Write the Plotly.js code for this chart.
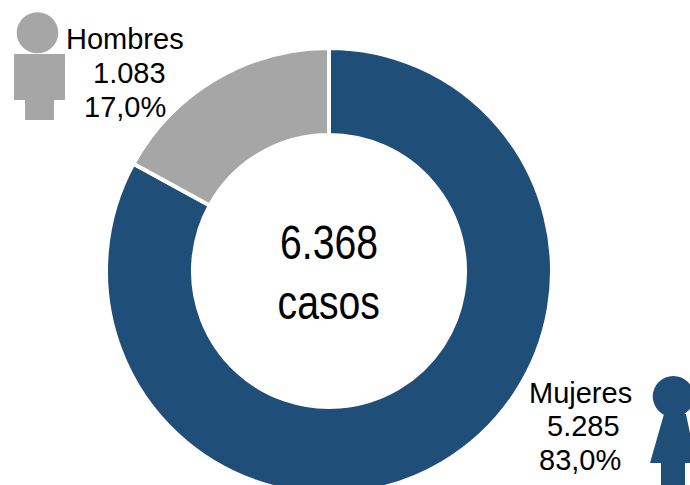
<!DOCTYPE html>
<html><head><meta charset="utf-8">
<script src="https://cdn.plot.ly/plotly-3.0.1.min.js"></script>
<style>html,body{margin:0;padding:0;background:#fff;overflow:hidden;width:690px;height:485px}</style>
</head><body><div id="chart" style="width:690px;height:494px"></div>
<script>
const categories = ["Mujeres", "Hombres"];
const values = [5285, 1083];
const valueLabels = ["5.285", "1.083"];
const shareLabels = ["83,0%", "17,0%"];
const centerLines = ["6.368", "casos"];
const colors = ["#1F4E79", "#A6A6A6"];

const W = 690, H = 494;
const px = x => x / W, py = y => 1 - y / H;
const path = pts => "M" + pts.map(p => px(p[0]) + "," + py(p[1])).join("L") + "Z";
const lab = (t, x, y, size) => ({
  text: t, xref: "paper", yref: "paper", x: px(x), y: py(y), xanchor: "center", yanchor: "middle",
  showarrow: false, font: {family: "Liberation Sans, Arial, sans-serif", size: size, color: "#000"}
});
const fill = c => ({xref: "paper", yref: "paper", fillcolor: c, line: {width: 0}, layer: "above"});

const data = [{
  type: "pie", labels: categories, values: values, hole: 0.61, sort: false, direction: "clockwise", rotation: 0,
  marker: {colors: colors, line: {color: "#fff", width: 4}},
  textinfo: "none", hoverinfo: "skip", showlegend: false,
  domain: {x: [106 / W, 552 / W], y: [0 / H, 446 / H]}
}];
const layout = {
  width: W, height: H, margin: {l: 0, r: 0, t: 0, b: 0}, paper_bgcolor: "#fff", showlegend: false,
  annotations: [
    lab(categories[1], 125.5, 39, 29), lab(valueLabels[1], 129, 73, 29), lab(shareLabels[1], 125, 107, 29),
    lab(categories[0], 580, 393, 29), lab(valueLabels[0], 583.5, 426, 29), lab(shareLabels[0], 579.5, 460, 29),
    lab(centerLines[0], 329, 243, 48),
    lab(centerLines[1], 328.5, 302, 48)
  ],
  shapes: [
    Object.assign(fill(colors[1]), {type: "circle", x0: px(16.7), x1: px(58.3), y0: py(53.3), y1: py(12.3)}),
    Object.assign(fill(colors[1]), {type: "path", path: path([[14,54],[65,54],[65,100],[54,100],[54,120],[25,120],[25,100],[14,100]])}),
    Object.assign(fill(colors[0]), {type: "circle", x0: px(652.7), x1: px(694), y0: py(417), y1: py(376)}),
    Object.assign(fill(colors[0]), {type: "path", path: path([[664,414],[686,414],[696,463],[685,463],[685,494],[661,494],[661,463],[650,463]])})
  ]
};
Plotly.newPlot("chart", data, layout, {staticPlot: true, displayModeBar: false}).then(() => {
  // The reference's centre text is a condensed face: narrow those two real text nodes to width.
  document.querySelectorAll(".annotation-text").forEach(t => {
    if (centerLines.includes(t.textContent)) {
      const w = t.getComputedTextLength();
      t.setAttribute("textLength", (w * 0.815).toFixed(1));
      t.setAttribute("lengthAdjust", "spacingAndGlyphs");
    }
  });
});
</script></body></html>
